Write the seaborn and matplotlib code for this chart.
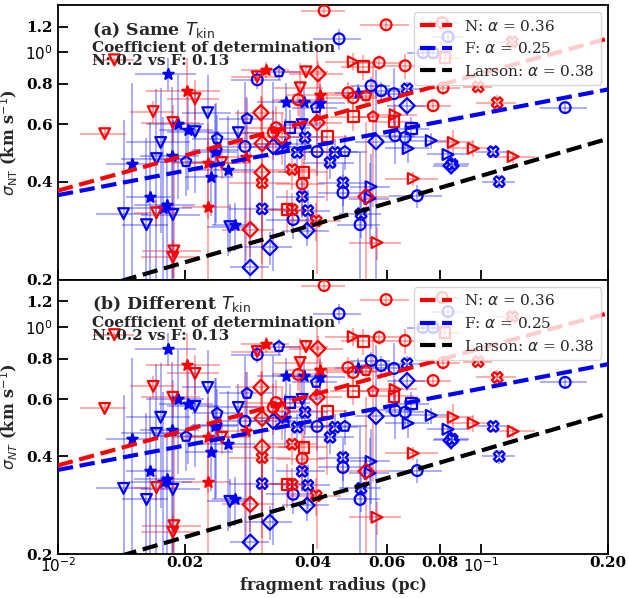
import numpy as np
import pandas as pd
import matplotlib
matplotlib.use("Agg")
import matplotlib.pyplot as plt
import seaborn as sns
from matplotlib.ticker import FixedLocator, FixedFormatter

# ---------------- data ----------------
# N fragments (red)
n_marker = (["v"] * 12 + ["*"] * 6 + ["D"] * 8 + ["o"] * 13 + ["s"] * 7 + ["p"] * 2 + [">"] * 7 + ["X"] * 7)
n_radius = [0.0129, 0.0136, 0.0168, 0.0187, 0.0211, 0.0296, 0.0374, 0.0386, 0.0244, 0.0171, 0.0188, 0.0187,
            0.0202, 0.0311, 0.0226, 0.0226, 0.0278, 0.0417,
            0.0302, 0.0304, 0.0304, 0.0285, 0.0412, 0.0410, 0.0535, 0.0339,
            0.0426, 0.0597, 0.0575, 0.0662, 0.0485, 0.0499, 0.0771, 0.0328, 0.0323, 0.0378, 0.0814, 0.0370, 0.0810,
            0.0527, 0.0499, 0.0623, 0.0382, 0.0433, 0.0348, 0.0823,
            0.0556, 0.0535,
            0.0499, 0.0627, 0.0860, 0.0959, 0.1192, 0.0692, 0.0568,
            0.0358, 0.0304, 0.0408, 0.0358, 0.1093, 0.0985, 0.1186]
n_sigma = [0.562, 0.948, 0.657, 0.608, 0.720, 0.841, 0.778, 0.871, 0.458, 0.321, 0.245, 0.234,
           0.762, 0.884, 0.458, 0.335, 0.478, 0.740,
           0.652, 0.524, 0.427, 0.285, 0.859, 0.608, 0.360, 0.550,
           1.342, 1.215, 0.930, 0.909, 0.751, 0.725, 0.685, 0.586, 0.566, 0.394, 0.778, 0.715, 1.233,
           0.903, 0.634, 0.612, 0.427, 0.550, 0.328, 0.962,
           0.634, 0.735,
           0.935, 0.643, 0.528, 0.506, 0.478, 0.409, 0.260,
           0.436, 0.397, 0.303, 0.328, 0.700, 0.783, 1.077]
n_radius_err = [0.0016, 0.0015, 0.002, 0.003, 0.003, 0.004, 0.005, 0.005, 0.004, 0.002, 0.003, 0.003,
                0.004, 0.004, 0.004, 0.003, 0.004, 0.007,
                0.004, 0.005, 0.005, 0.004, 0.006, 0.006, 0.007, 0.005,
                0.005, 0.008, 0.008, 0.008, 0.006, 0.007, 0.008, 0.005, 0.005, 0.005, 0.008, 0.005, 0.008,
                0.006, 0.006, 0.007, 0.005, 0.005, 0.004, 0.007,
                0.006, 0.006,
                0.007, 0.008, 0.010, 0.012, 0.015, 0.010, 0.008,
                0.005, 0.005, 0.006, 0.004, 0.012, 0.008, 0.012]
n_sigma_err = [0.02, 0.02, 0.05, 0.08, 0.10, 0.03, 0.15, 0.03, 0.05, 0.03, 0.25, 0.03,
               0.20, 0.05, 0.15, 0.20, 0.25, 0.10,
               0.08, 0.30, 0.30, 0.05, 0.08, 0.40, 0.25, 0.10,
               0.05, 0.05, 0.05, 0.08, 0.06, 0.06, 0.03, 0.10, 0.10, 0.08, 0.04, 0.08, 0.04,
               0.08, 0.06, 0.06, 0.08, 0.20, 0.05, 0.06,
               0.30, 0.05,
               0.06, 0.05, 0.05, 0.03, 0.02, 0.02, 0.03,
               0.06, 0.06, 0.04, 0.04, 0.04, 0.02, 0.05]

# F fragments (blue)
f_marker = (["v"] * 10 + ["*"] * 17 + ["p"] * 7 + ["o"] * 17 + ["D"] * 7 + ["s"] * 2 + ["X"] * 13 + [">"] * 5)
f_radius = [0.0226, 0.0175, 0.0171, 0.0211, 0.0267, 0.0143, 0.0162, 0.0187, 0.0255, 0.0378,
            0.0182, 0.0192, 0.0203, 0.0150, 0.0186, 0.0165, 0.0177, 0.0181, 0.0230, 0.0235, 0.0252, 0.0262,
            0.0346, 0.0382, 0.0344, 0.0417, 0.0513,
            0.0280, 0.0238, 0.0333, 0.0237, 0.0201, 0.0408, 0.0477,
            0.0296, 0.0277, 0.0462, 0.0550, 0.0581, 0.0623, 0.0410, 0.0627, 0.0662, 0.0360, 0.0472, 0.0518,
            0.0707, 0.1582, 0.0730, 0.0771, 0.0836,
            0.0323, 0.0317, 0.0285, 0.0388, 0.0669, 0.0565, 0.0850,
            0.0684, 0.0354,
            0.0384, 0.0368, 0.0452, 0.0440, 0.0472, 0.0378, 0.0390, 0.0304, 0.0521, 0.0669, 0.1069, 0.1105, 0.0855,
            0.0763, 0.0673, 0.0836, 0.0550, 0.0547]
f_sigma = [0.652, 0.528, 0.471, 0.570, 0.566, 0.319, 0.295, 0.317, 0.291, 0.599,
           0.859, 0.603, 0.578, 0.452, 0.481, 0.360, 0.333, 0.340, 0.414, 0.495, 0.436, 0.295,
           0.705, 0.705, 0.524, 0.700, 0.751,
           0.625, 0.543, 0.871, 0.499, 0.461, 0.676, 0.495,
           0.823, 0.513, 1.100, 0.789, 0.762, 0.746, 0.495, 0.554, 0.547, 0.306, 0.370, 0.295,
           0.362, 0.676, 0.997, 0.997, 1.116,
           0.513, 0.251, 0.218, 0.283, 0.685, 0.531, 0.448,
           0.582, 0.586,
           0.547, 0.492, 0.492, 0.458, 0.397, 0.360, 0.326, 0.330, 0.319, 0.772, 0.495, 0.400, 0.452,
           0.535, 0.506, 0.485, 0.386, 0.355]
f_radius_err = [0.003, 0.003, 0.003, 0.003, 0.004, 0.002, 0.002, 0.003, 0.003, 0.005,
                0.003, 0.003, 0.003, 0.002, 0.003, 0.002, 0.003, 0.003, 0.003, 0.003, 0.004, 0.003,
                0.005, 0.005, 0.005, 0.006, 0.006,
                0.004, 0.003, 0.004, 0.003, 0.003, 0.005, 0.006,
                0.004, 0.004, 0.006, 0.006, 0.006, 0.006, 0.005, 0.007, 0.007, 0.005, 0.006, 0.006,
                0.010, 0.020, 0.006, 0.006, 0.007,
                0.004, 0.004, 0.003, 0.005, 0.007, 0.006, 0.008,
                0.007, 0.004,
                0.005, 0.005, 0.006, 0.006, 0.006, 0.005, 0.005, 0.005, 0.006, 0.007, 0.010, 0.010, 0.008,
                0.008, 0.008, 0.009, 0.006, 0.006]
f_sigma_err = [0.20, 0.25, 0.30, 0.20, 0.10, 0.30, 0.25, 0.30, 0.05, 0.10,
               0.10, 0.25, 0.20, 0.35, 0.30, 0.25, 0.30, 0.15, 0.10, 0.20, 0.20, 0.05,
               0.10, 0.10, 0.10, 0.10, 0.05,
               0.10, 0.10, 0.05, 0.20, 0.10, 0.08, 0.06,
               0.05, 0.30, 0.08, 0.05, 0.05, 0.15, 0.08, 0.10, 0.05, 0.04, 0.05, 0.20,
               0.03, 0.02, 0.04, 0.04, 0.04,
               0.30, 0.03, 0.30, 0.03, 0.05, 0.35, 0.03,
               0.05, 0.08,
               0.08, 0.05, 0.05, 0.05, 0.06, 0.05, 0.05, 0.08, 0.05, 0.04, 0.02, 0.02, 0.03,
               0.03, 0.05, 0.03, 0.10, 0.10]

# power-law fits: sigma = amp * R^alpha
fit_labels = ["N", "F", "Larson"]
fit_alpha = [0.36, 0.25, 0.38]
fit_amp = [1.97, 1.15, 1.00]
fit_colors = ["red", "blue", "black"]

panel_titles = [r"(a) Same $T_{\rm kin}$", r"(b) Different $T_{\rm kin}$"]
panel_ylabels = [r"$\sigma_{\rm NT}$ (km s$^{-1}$)", r"$\sigma_{NT}$ (km s$^{-1}$)"]
coef_text = "Coefficient of determination\nN: 0.2 vs F: 0.13"

x_minor_ticks = [0.02, 0.04, 0.06, 0.08, 0.2]
x_minor_labels = ["0.02", "0.04", "0.06", "0.08", "0.20"]
y_minor_ticks = [0.2, 0.4, 0.6, 0.8, 1.2]
y_minor_labels = ["0.2", "0.4", "0.6", "0.8", "1.2"]

# ---------------- build table ----------------
df = pd.concat([
    pd.DataFrame({"radius": n_radius, "sigma": n_sigma, "rerr": n_radius_err,
                  "serr": n_sigma_err, "marker": n_marker, "group": "N"}),
    pd.DataFrame({"radius": f_radius, "sigma": f_sigma, "rerr": f_radius_err,
                  "serr": f_sigma_err, "marker": f_marker, "group": "F"}),
], ignore_index=True)
group_color = {"N": "red", "F": "blue"}

sns.set_style("white")
plt.rcParams["font.family"] = ["DejaVu Sans"]
plt.rcParams["axes.edgecolor"] = "black"
plt.rcParams["axes.linewidth"] = 1.3

fig, axes = plt.subplots(2, 1, figsize=(6.29, 5.98), dpi=100, sharex=True)
fig.subplots_adjust(left=0.092, right=0.967, top=0.992, bottom=0.073, hspace=0)

xx = np.logspace(-2, np.log10(0.2), 60)

for k, ax in enumerate(axes):
    ax.set_xscale("log")
    ax.set_yscale("log")
    # error bars
    for g, sub in df.groupby("group"):
        ax.errorbar(sub["radius"], sub["sigma"], xerr=sub["rerr"], yerr=sub["serr"],
                    fmt="none", ecolor=group_color[g], alpha=0.35, elinewidth=1.3, zorder=1)
    # markers
    for (g, mk), sub in df.groupby(["group", "marker"]):
        c = group_color[g]
        sns.scatterplot(x=sub["radius"].values, y=sub["sigma"].values, ax=ax, marker=mk, s=60,
                        facecolor=(c if mk == "*" else "none"), edgecolor=c,
                        linewidth=1.6, zorder=3, legend=False)
    # fits
    for lab, a, amp, c in zip(fit_labels, fit_alpha, fit_amp, fit_colors):
        sns.lineplot(x=xx, y=amp * xx ** a, ax=ax, color=c, linestyle="--", linewidth=3,
                     label=rf"{lab}: $\alpha$ = {a:.2f}", zorder=4)
    ax.set_xlim(0.01, 0.2)
    ax.set_ylim(0.2, 1.4)

    ax.yaxis.set_minor_locator(FixedLocator(y_minor_ticks))
    ax.yaxis.set_minor_formatter(FixedFormatter(y_minor_labels))
    ax.xaxis.set_minor_locator(FixedLocator(x_minor_ticks))
    ax.xaxis.set_minor_formatter(FixedFormatter(x_minor_labels))
    ax.tick_params(which="both", direction="in", length=7, width=1.3, labelsize=11,
                   top=False, right=False, left=True, bottom=True, colors="black")
    ax.tick_params(axis="x", which="both", pad=1.5)

    leg = ax.legend(loc="upper right", prop={"family": "serif", "size": 11}, framealpha=0.8,
                    handlelength=2.1)
    ax.text(0.062, 0.91, panel_titles[k], transform=ax.transAxes, fontsize=12.5,
            fontweight="bold", family="serif", va="center", ha="left")
    ax.text(0.062, 0.868, coef_text, transform=ax.transAxes, fontsize=11,
            fontweight="bold", family="serif", va="top", ha="left", linespacing=0.9)
    ax.set_ylabel(panel_ylabels[k], fontsize=11.5, fontweight="bold", family="serif")

axes[1].set_xlabel("fragment radius (pc)", fontsize=11.5, fontweight="bold", family="serif",
                   labelpad=1)
axes[0].tick_params(which="both", labelbottom=False)

fig.canvas.draw()
for ax in axes:
    for lab in ax.get_yticklabels(minor=True) + ax.get_xticklabels(minor=True):
        lab.set_fontweight("bold")
        lab.set_family("serif")

fig.savefig("out.png", dpi=100)
